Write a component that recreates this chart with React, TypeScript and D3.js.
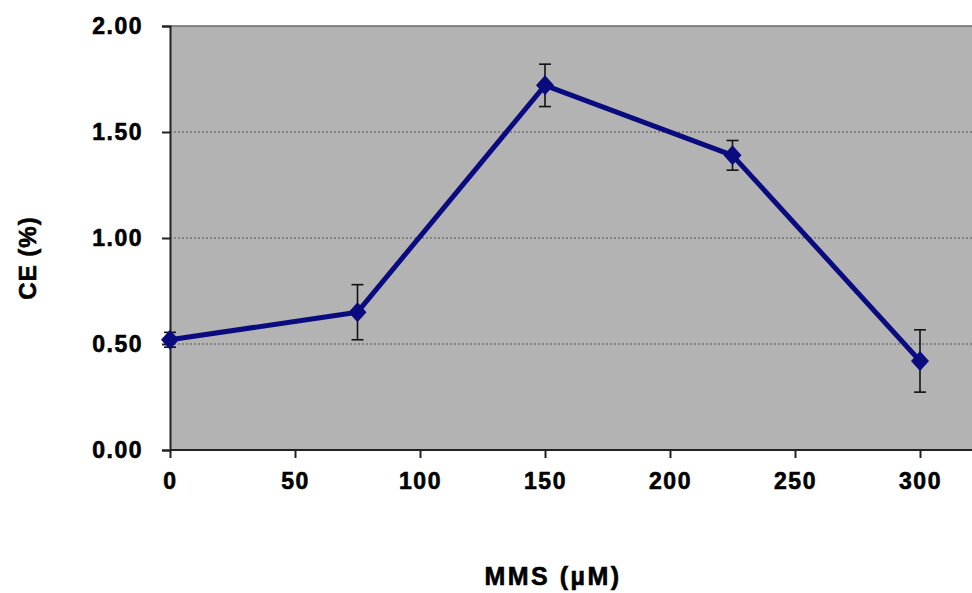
import * as d3 from "d3";
import { useEffect, useRef } from "react";

// data
const doses = [0, 75, 150, 225, 300];
const ceValues = [0.52, 0.65, 1.72, 1.39, 0.42];
const ceErrors = [0.035, 0.13, 0.1, 0.07, 0.147];
const xTicks = [0, 50, 100, 150, 200, 250, 300];
const yTicks = [0, 0.5, 1.0, 1.5, 2.0];

const W = 972;
const H = 593;
const margin = { top: 26, bottom: 143, left: 170, right: 0 };

const App = () => {
    const ref = useRef<SVGSVGElement>(null);

    useEffect(() => {
        const svg = d3.select(ref.current);
        svg.selectAll("*").remove();

        const x = d3.scaleLinear().domain([0, 300]).range([170, 920]);
        const y = d3.scaleLinear().domain([0, 2]).range([H - margin.bottom, margin.top]);
        const font = "'Liberation Sans', Arial, sans-serif";

        const boldText = (sel: any, size: number, spacing: number) =>
            sel.attr("fill", "#000")
                .attr("stroke", "#000")
                .attr("stroke-width", 0.6)
                .style("font-family", font)
                .style("font-weight", "bold")
                .style("font-size", `${size}px`)
                .style("letter-spacing", `${spacing}px`);

        // plot area
        svg.append("rect")
            .attr("x", margin.left)
            .attr("y", margin.top)
            .attr("width", W - margin.left)
            .attr("height", y(0) - margin.top)
            .attr("fill", "#b3b3b3");
        svg.append("line")
            .attr("x1", margin.left).attr("x2", W)
            .attr("y1", margin.top).attr("y2", margin.top)
            .attr("stroke", "#6a6a6a").attr("stroke-width", 1.5);

        // dotted gridlines
        svg.append("g")
            .selectAll("line")
            .data(yTicks.filter(d => d > 0 && d < 2))
            .enter().append("line")
            .attr("x1", margin.left).attr("x2", W)
            .attr("y1", d => y(d)).attr("y2", d => y(d))
            .attr("stroke", "#555")
            .attr("stroke-width", 1)
            .attr("stroke-dasharray", "2,2");

        // axes
        const yAxis = svg.append("g")
            .attr("transform", `translate(${margin.left},0)`)
            .call(d3.axisLeft(y).tickValues(yTicks).tickFormat(d3.format(".2f")).tickSize(8).tickPadding(19));
        const xAxis = svg.append("g")
            .attr("transform", `translate(0,${y(0)})`)
            .call(d3.axisBottom(x).tickValues(xTicks).tickSize(8).tickPadding(15));
        for (const g of [xAxis, yAxis]) {
            g.select(".domain").attr("stroke", "#222").attr("stroke-width", 2);
            g.selectAll(".tick line").attr("stroke", "#222").attr("stroke-width", 2);
            boldText(g.selectAll("text"), 23, 1.5);
        }
        xAxis.select(".domain").attr("d", `M${margin.left},0H${W}`);

        // line
        const line = d3.line<number>()
            .x((_, i) => x(doses[i]))
            .y(d => y(d));
        svg.append("path")
            .attr("d", line(ceValues))
            .attr("fill", "none")
            .attr("stroke", "#0b0b80")
            .attr("stroke-width", 5)
            .attr("stroke-linejoin", "round");

        // error bars
        const err = svg.append("g").attr("stroke", "#111").attr("stroke-width", 1.6);
        ceValues.forEach((v, i) => {
            const cx = x(doses[i]);
            const top = y(v + ceErrors[i]);
            const bot = y(v - ceErrors[i]);
            err.append("line").attr("x1", cx).attr("x2", cx).attr("y1", top).attr("y2", bot);
            err.append("line").attr("x1", cx - 6).attr("x2", cx + 6).attr("y1", top).attr("y2", top);
            err.append("line").attr("x1", cx - 6).attr("x2", cx + 6).attr("y1", bot).attr("y2", bot);
        });

        // diamond markers
        svg.append("g")
            .selectAll("path")
            .data(ceValues)
            .enter().append("path")
            .attr("transform", (d, i) => `translate(${x(doses[i])},${y(d)})`)
            .attr("d", "M0,-10L9,0L0,10L-9,0Z")
            .attr("fill", "#0b0b80");

        // axis titles
        boldText(svg.append("text")
            .attr("x", 553).attr("y", 585)
            .attr("text-anchor", "middle")
            .text("MMS (\u00b5M)"), 25, 2.5);
        boldText(svg.append("text")
            .attr("transform", "translate(36,258) rotate(-90)")
            .attr("text-anchor", "middle")
            .text("CE (%)"), 24, 1);
    }, []);

    return (
        <svg ref={ref} width={W} height={H}
             style={{ position: "absolute", left: 0, top: 0, background: "#fff" }} />
    );
};

export default App;
